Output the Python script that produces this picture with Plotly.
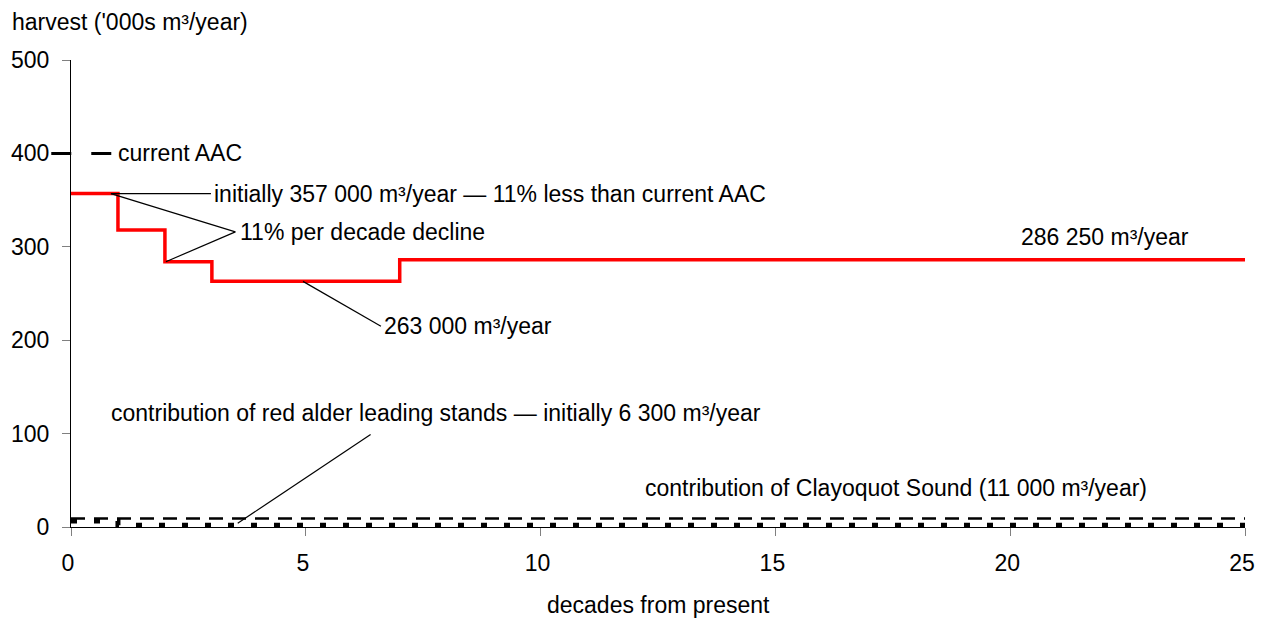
import plotly.graph_objects as go

# ---- data ----
decades = [0, 1, 2, 3, 7, 25]
harvest = [357, 318, 284, 263, 286.25, 286.25]
alder_decades = [0, 1, 25]
alder = [6.3, 2, 2]
clayoquot_decades = [0, 25]
clayoquot = [9, 9]
current_aac = 400
x_ticks = [0, 5, 10, 15, 20, 25]
y_ticks = [0, 100, 200, 300, 400, 500]

X_MAX = 25
Y_MAX = 500
FONT = "Liberation Sans, Arial, sans-serif"
FS = 23

fig = go.Figure()
fig.add_trace(go.Scatter(x=clayoquot_decades, y=clayoquot, mode="lines",
                         line=dict(color="black", width=2.5, dash="14px,9px"),
                         showlegend=False, hoverinfo="skip"))
fig.add_trace(go.Scatter(x=alder_decades, y=alder, mode="lines", line_shape="hv",
                         line=dict(color="black", width=5, dash="6px,17px"),
                         showlegend=False, hoverinfo="skip"))
fig.add_trace(go.Scatter(x=decades, y=harvest, mode="lines", line_shape="hv",
                         line=dict(color="#FF0000", width=3.5),
                         showlegend=False))

# leader lines (data coordinates)
leaders = [
    ((0.85, 357), (2.98, 357)),
    ((0.85, 357), (3.5, 316)),
    ((2.02, 284), (3.5, 316)),
    ((4.94, 263), (6.6, 215)),
    ((3.55, 4), (6.38, 99)),
]
for (x0, y0), (x1, y1) in leaders:
    fig.add_shape(type="line", xref="x", yref="y", x0=x0, y0=y0, x1=x1, y1=y1,
                  line=dict(color="black", width=1.2))

# current AAC legend sample (extends left of axis -> paper coords)
aac_x0, aac_x1 = -0.42, 0.92
fig.add_shape(type="line", xref="paper", yref="paper",
              x0=aac_x0 / X_MAX, x1=aac_x1 / X_MAX,
              y0=current_aac / Y_MAX, y1=current_aac / Y_MAX,
              line=dict(color="black", width=3, dash="20px,20px"))

labels = [
    (0.96, current_aac, "current AAC", "left"),
    (3.0, 357, "initially 357 000 m³/year — 11% less than current AAC", "left"),
    (3.55, 316, "11% per decade decline", "left"),
    (23.86, 310, "286 250 m³/year", "right"),
    (6.62, 215, "263 000 m³/year", "left"),
    (0.8, 122, "contribution of red alder leading stands — initially 6 300 m³/year", "left"),
    (12.18, 42, "contribution of Clayoquot Sound (11 000 m³/year)", "left"),
]
for x, y, t, anc in labels:
    fig.add_annotation(x=x, y=y, xref="x", yref="y", text=t, showarrow=False,
                       xanchor=anc, yanchor="middle",
                       font=dict(family=FONT, size=FS, color="black"))

fig.add_annotation(x=0, y=1, xref="paper", yref="paper", xanchor="left", yanchor="middle",
                   xshift=-61, yshift=38, showarrow=False,
                   text="harvest ('000s m³/year)", font=dict(family=FONT, size=FS, color="black"))
fig.add_annotation(x=0.5, y=0, xref="paper", yref="paper", xanchor="center", yanchor="middle",
                   yshift=-78, showarrow=False,
                   text="decades from present", font=dict(family=FONT, size=FS, color="black"))

# the page body has an 8px margin; keep the figure inside the window width
fig.update_layout(
    width=1248, height=610, autosize=False,
    margin=dict(l=63, r=11, t=52, b=91),
    plot_bgcolor="white", paper_bgcolor="white",
    font=dict(family=FONT, size=FS, color="black"),
    showlegend=False,
)
fig.update_xaxes(range=[0, X_MAX], tickvals=x_ticks, showgrid=False, zeroline=False,
                 automargin=False,
                 showline=True, linecolor="black", linewidth=1,
                 ticks="outside", ticklen=8, tickcolor="#808080", tickwidth=1,
                 ticklabelstandoff=7, ticklabelshift=-3,
                 tickfont=dict(family=FONT, size=FS, color="black"))
fig.update_yaxes(range=[0, Y_MAX], tickvals=y_ticks, showgrid=False, zeroline=False,
                 automargin=False,
                 showline=True, linecolor="black", linewidth=1,
                 ticks="outside", ticklen=8, tickcolor="#808080", tickwidth=1,
                 ticklabelstandoff=8,
                 tickfont=dict(family=FONT, size=FS, color="black"))

fig.write_html("out.html")
